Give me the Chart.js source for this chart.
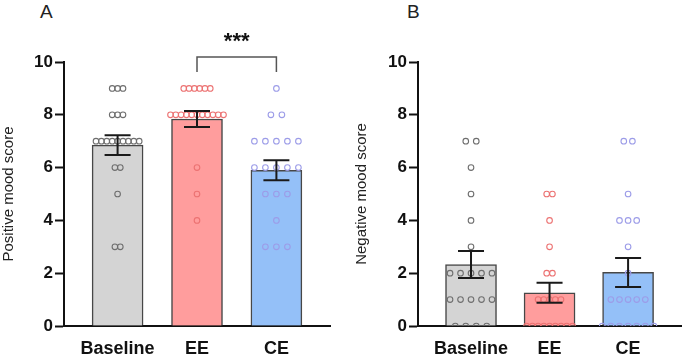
<!DOCTYPE html>
<html>
<head>
<meta charset="utf-8">
<script src="https://cdn.jsdelivr.net/npm/chart.js@4.4.1/dist/chart.umd.min.js"></script>
<style>
    body { margin: 0; background: #fff; width: 685px; height: 359px; position: relative; overflow: hidden;
           font-family: 'Liberation Sans', Arial, sans-serif; }
    .panel { position: absolute; top: 0; height: 359px; }
    #panelA { left: 0; width: 340px; }
    #panelB { left: 340px; width: 345px; }
    .letter { position: absolute; top: 1px; font-size: 19px; color: #222; }
</style>
</head>
<body>
<div class="letter" style="left:40px">A</div>
<div class="letter" style="left:407px">B</div>
<div class="panel" id="panelA"><canvas id="chartA"></canvas></div>
<div class="panel" id="panelB"><canvas id="chartB"></canvas></div>
<script>
// groups on the x axis
const groups = ['Baseline', 'EE', 'CE'];

// individual scores
const posBaseline = [9,9,9,8,8,8,7,7,7,7,7,7,7,7,7,6,6,5,3,3];
const posEE       = [9,9,9,9,9,9,8,8,8,8,8,8,8,8,8,8,8,6,5,4];
const posCE       = [9,8,8,7,7,7,7,7,6,6,6,6,6,5,5,5,4,3,3,3];
const negBaseline = [7,7,6,5,4,3,2,2,2,2,2,1,1,1,1,1,0,0,0,0];
const negEE       = [5,5,4,3,2,2,1,1,1,1,1,0,0,0,0,0,0,0,0,0];
const negCE       = [7,7,5,4,4,4,3,2,1,1,1,1,1,0,0,0,0,0,0,0];

// bar heights and SEM
const posMeans = [6.85, 7.84, 5.9];
const posSem   = [0.375, 0.3, 0.38];
const negMeans = [2.33, 1.26, 2.03];
const negSem   = [0.51, 0.38, 0.55];

const yTicks = [0, 2, 4, 6, 8, 10];

// look
const barColors = ['#d4d4d4', '#ff9d9d', '#94c0f8'];
const dotColors = ['#6e6e6e', '#ec7272', '#9c9ce8'];
const X_MIN = -0.675, X_MAX = 2.675;
const PX_PER_UNIT = 266 / (X_MAX - X_MIN);

// spread equal values side by side (spacing in px)
function swarm(values, pos, spreadPx) {
    const step = spreadPx / PX_PER_UNIT;
    const counts = {};
    values.forEach(v => counts[v] = (counts[v] || 0) + 1);
    const seen = {};
    return values.map(v => {
        const k = seen[v] || 0;
        seen[v] = k + 1;
        return {x: pos + (k - (counts[v] - 1) / 2) * step, y: v};
    });
}

// error bars + significance bracket
const extrasPlugin = {
    id: 'extras',
    afterDatasetsDraw(chart) {
        const o = chart.options.plugins.extras;
        const xs = chart.scales.x, ys = chart.scales.y;
        const ctx = chart.ctx;
        ctx.save();
        ctx.strokeStyle = '#1a1a1a';
        ctx.lineWidth = 2;
        o.means.forEach((m, i) => {
            const x = xs.getPixelForValue(i);
            const top = ys.getPixelForValue(m + o.sem[i]);
            const bot = ys.getPixelForValue(m - o.sem[i]);
            ctx.beginPath();
            ctx.moveTo(x, top); ctx.lineTo(x, bot);
            ctx.moveTo(x - 13, top); ctx.lineTo(x + 13, top);
            ctx.moveTo(x - 13, bot); ctx.lineTo(x + 13, bot);
            ctx.stroke();
        });
        if (o.sig) {
            const s = o.sig;
            const x1 = xs.getPixelForValue(s.from), x2 = xs.getPixelForValue(s.to);
            const yb = ys.getPixelForValue(s.y), yt = ys.getPixelForValue(s.tip);
            ctx.strokeStyle = '#555';
            ctx.lineWidth = 1.5;
            ctx.beginPath();
            ctx.moveTo(x1, yt); ctx.lineTo(x1, yb); ctx.lineTo(x2, yb); ctx.lineTo(x2, yt);
            ctx.stroke();
            ctx.fillStyle = '#111';
            ctx.font = 'bold 22px "Liberation Sans", Arial, sans-serif';
            ctx.textAlign = 'center';
            ctx.textBaseline = 'middle';
            ctx.fillText(s.label, (x1 + x2) / 2, ys.getPixelForValue(s.labelY));
        }
        ctx.restore();
    }
};

function makePanel(id, raw, means, sem, spreads, yTitle, axisWidth, titlePad, padRight, sig) {
    const dotSets = raw.map((vals, i) => ({
        type: 'scatter',
        data: swarm(vals, i, spreads[i]),
        borderColor: dotColors[i],
        backgroundColor: 'rgba(0,0,0,0)',
        pointRadius: 2.8,
        pointBorderWidth: 1.1,
        pointHoverRadius: 2.8,
        order: 0
    }));
    new Chart(document.getElementById(id), {
        type: 'bar',
        data: {
            datasets: [...dotSets, {
                type: 'bar',
                data: means.map((m, i) => ({x: i, y: m})),
                backgroundColor: barColors,
                borderColor: '#474747',
                borderWidth: 1.5,
                barThickness: 51,
                order: 1
            }]
        },
        options: {
            responsive: true,
            maintainAspectRatio: false,
            animation: false,
            layout: {padding: {top: 62, right: padRight, bottom: 0, left: 0}},
            plugins: {
                legend: {display: false},
                tooltip: {enabled: false},
                extras: {means: means, sem: sem, sig: sig}
            },
            scales: {
                x: {
                    type: 'linear',
                    offset: false,
                    min: X_MIN, max: X_MAX,
                    grid: {display: false, drawTicks: false, offset: false},
                    border: {display: true, color: '#111', width: 2},
                    ticks: {
                        stepSize: 1, includeBounds: false, autoSkip: false, maxRotation: 0,
                        padding: 12, color: '#111',
                        font: {family: '"Liberation Sans", Arial', size: 18, weight: 'bold'},
                        callback: v => groups[v] ?? ''
                    },
                    afterFit: s => { s.height = 33; }
                },
                y: {
                    min: 0, max: 10,
                    afterBuildTicks: s => { s.ticks = yTicks.map(v => ({value: v})); },
                    grid: {drawOnChartArea: false, drawTicks: true, tickLength: 9, tickWidth: 2, tickColor: '#111'},
                    border: {display: true, color: '#111', width: 2},
                    ticks: {padding: 2, color: '#111', font: {family: '"Liberation Sans", Arial', size: 17, weight: 'bold'}},
                    title: {
                        display: true, text: yTitle, color: '#222',
                        font: {family: '"Liberation Sans", Arial', size: 15},
                        padding: {top: titlePad, bottom: 0}
                    },
                    afterFit: s => { s.width = axisWidth; }
                }
            }
        },
        plugins: [extrasPlugin]
    });
}

makePanel('chartA', [posBaseline, posEE, posCE], posMeans, posSem, [5.4, 5.3, 11],
    'Positive mood score', 64, 0, 10,
    {from: 1, to: 2, y: 10.19, tip: 9.62, label: '***', labelY: 10.75});
makePanel('chartB', [negBaseline, negEE, negCE], negMeans, negSem, [10.6, 5.8, 8.7],
    'Negative mood score', 78, 13, 1, null);
</script>
</body>
</html>
